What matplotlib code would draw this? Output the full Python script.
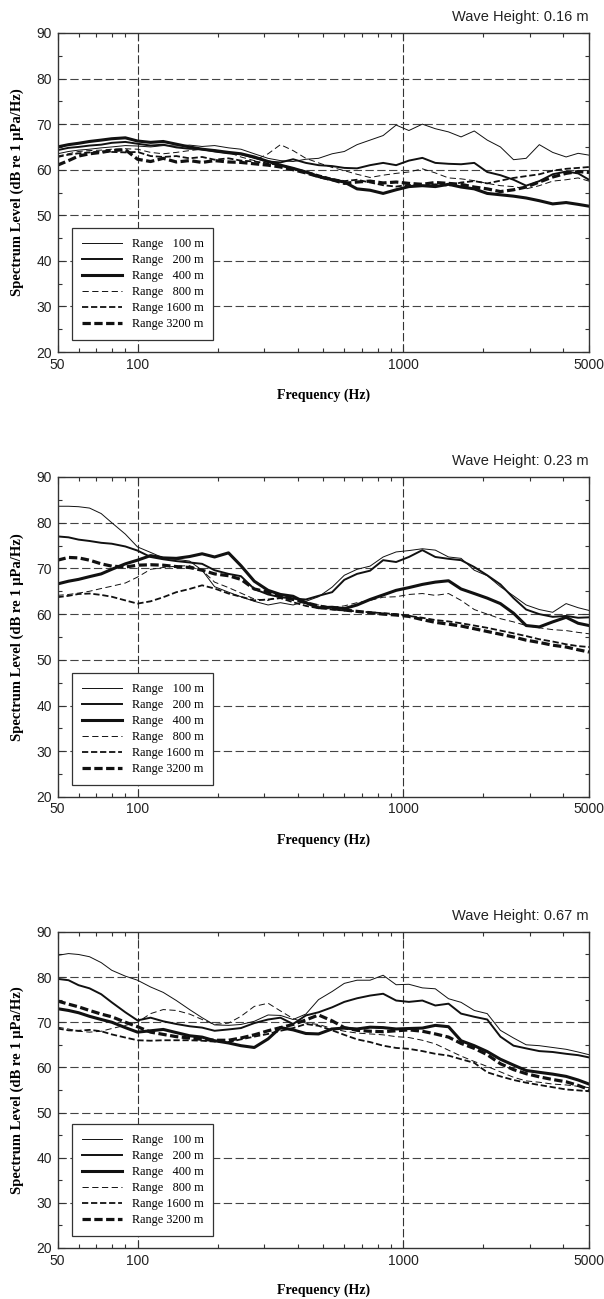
import matplotlib
matplotlib.use("Agg")
import matplotlib.pyplot as plt
from matplotlib.ticker import FixedLocator, MultipleLocator, NullFormatter

plt.rcParams['lines.scale_dashes'] = False

# frequency grid (Hz) the spectra were read at
freq = [50, 55, 60, 66, 73, 80, 90, 100, 112, 125, 140, 157, 175, 195, 220, 245, 275, 310,
        345, 385, 430, 480, 540, 600, 670, 750, 840, 940, 1050, 1180, 1320, 1480, 1650,
        1850, 2070, 2320, 2600, 2900, 3250, 3650, 4100, 4550, 5000]

ranges = ["100", "200", "400", "800", "1600", "3200"]
wave_heights = ["0.16", "0.23", "0.67"]

# wave height 0.16 m
p1_100 = [63.5, 64, 64.3, 64.5, 64.8, 65, 65.3, 65.2, 65, 65.3, 65.2, 65.4, 65.1, 65.3, 64.8, 64.5,
          63.5, 62.5, 62, 61.8, 62.3, 62.5, 63.5, 64, 65.5, 66.5, 67.5, 69.8, 68.6, 70, 69, 68.3,
          67.2, 68.5, 66.5, 65, 62.2, 62.5, 65.5, 63.8, 62.8, 63.6, 63.2]
p1_200 = [64.3, 64.8, 65, 65.3, 65.5, 65.9, 66.1, 65.7, 65.3, 65.5, 64.9, 64.6, 64.5, 64, 63.6, 63.4,
          62.6, 61.8, 61.6, 62.3, 61.5, 61, 60.8, 60.4, 60.3, 61, 61.5, 61, 62, 62.6, 61.5, 61.3,
          61.2, 61.5, 59.5, 58.8, 57.8, 56.5, 57.5, 59, 59.6, 59.2, 57.8]
p1_400 = [65, 65.5, 65.8, 66.2, 66.5, 66.8, 67, 66.3, 66, 66.2, 65.6, 65, 64.5, 64.2, 63.8, 63.5,
          62.8, 61.8, 61, 60.3, 59.5, 58.5, 57.8, 57.3, 55.8, 55.5, 54.8, 55.6, 56.3, 56.5, 56.3, 56.8,
          56.2, 55.8, 54.8, 54.5, 54.2, 53.8, 53.2, 52.5, 52.8, 52.4, 52]
p1_800 = [63, 63.5, 64, 64.2, 64.3, 64.5, 64.6, 64.5, 63.8, 63.5, 63.8, 64.2, 64.5, 64.3, 63.8, 62.8,
          62, 63.5, 65.5, 64.2, 62.5, 61.5, 60.5, 59.8, 59, 58.3, 58.8, 59.2, 59.5, 60.2, 59.3, 58.2,
          58, 57.6, 57, 56.5, 56.3, 55.8, 56.5, 57.5, 57.8, 58.2, 57.5]
p1_1600 = [62.8, 63.3, 63.6, 63.8, 64, 63.9, 63.8, 63.9, 63, 62.8, 63, 62.5, 62.8, 62.2, 62.5, 62,
           61.8, 61.4, 61, 60.3, 59.6, 58.8, 58, 57.5, 57.8, 57.2, 56.6, 56.3, 56.7, 56.4, 56.8, 56.5,
           57.2, 57.5, 57, 57.6, 58.2, 58.6, 59, 59.8, 60.2, 60.4, 60.6]
p1_3200 = [61, 62, 63, 63.5, 63.8, 64.2, 64.4, 62.3, 61.8, 62.5, 61.7, 62, 61.6, 62, 61.7, 61.6,
           61.3, 61, 60.6, 60, 59.3, 58.5, 57.8, 57, 57.3, 57.5, 57.1, 57.3, 57, 56.8, 57.2, 57,
           56.8, 56.2, 55.8, 55.2, 55.6, 56.2, 57.3, 58.4, 59.2, 59.6, 59.4]

# wave height 0.23 m
p2_100 = [83.6, 83.6, 83.5, 83.2, 82, 80, 77.5, 74.7, 73.5, 72.3, 72, 71.6, 69.6, 66, 64.8, 63.8,
          62.8, 62, 62.5, 62, 62.8, 63.8, 65.9, 68.5, 69.8, 70.5, 72.5, 73.6, 73.9, 74.3, 74, 72.5,
          72.2, 69.6, 68.4, 66, 64, 62, 61, 60.4, 62.3, 61.4, 60.8]
p2_200 = [77, 76.8, 76.3, 76, 75.6, 75.4, 74.8, 73.9, 72.5, 72, 71.6, 71.3, 71, 69.6, 68.8, 68.3,
          65.5, 64.3, 63.7, 63.4, 63.2, 64, 64.8, 67.5, 68.8, 69.5, 71.8, 71.4, 72.5, 74, 72.5, 72.1,
          71.8, 70.3, 68.5, 66.5, 63.5, 61, 60, 59.4, 59.6, 59.2, 59.3]
p2_400 = [66.6, 67.2, 67.6, 68.2, 68.8, 69.8, 71, 71.8, 72.8, 72.3, 72.2, 72.6, 73.2, 72.5, 73.4, 70.6,
          67.2, 65.2, 64.3, 63.9, 62.5, 61.4, 61.5, 61.2, 62, 63.2, 64.2, 65.2, 65.8, 66.5, 67, 67.3,
          65.5, 64.5, 63.5, 62.3, 60.2, 57.5, 57.2, 58.3, 59.3, 58, 57.5]
p2_800 = [64.1, 64.3, 64.6, 65, 65.6, 66.1, 66.8, 68.1, 69.8, 70.2, 70.5, 70.6, 69.6, 67, 65.8, 64.6,
          63.3, 63, 64.2, 63.5, 62.3, 62, 61.5, 61.8, 62.5, 63, 63.7, 63.8, 64.3, 64.5, 64.1, 64.5,
          63, 61, 60, 59, 58.3, 57.5, 57, 56.6, 56.4, 56, 55.7]
p2_1600 = [63.7, 64, 64.4, 64.5, 64.2, 63.8, 63, 62.3, 62.8, 63.7, 64.8, 65.5, 66.3, 65.6, 64.5, 63.8,
           63, 63.2, 63.5, 62.6, 61.8, 61.3, 61, 60.8, 60.6, 60.4, 60.2, 60, 59.6, 59.2, 58.7, 58.4,
           58, 57.5, 57, 56.4, 55.8, 55.2, 54.5, 54, 53.4, 53, 52.8]
p2_3200 = [71.8, 72.4, 72.3, 71.8, 71, 70.5, 70.3, 70.7, 70.8, 70.7, 70.4, 70.2, 69.6, 68.8, 68.4, 67.6,
           65.5, 64.8, 63.8, 63.2, 62.5, 61.8, 61.2, 60.9, 60.6, 60.3, 60, 59.8, 59.5, 58.8, 58.2, 57.8,
           57.4, 56.8, 56.2, 55.6, 55, 54.3, 53.8, 53.2, 52.8, 52.2, 51.7]

# wave height 0.67 m
p3_100 = [84.8, 85.2, 85, 84.5, 83.2, 81.5, 80.2, 79.3, 77.8, 76.6, 74.8, 72.8, 71, 69.4, 69.3, 69.5,
          70.2, 71.6, 71.5, 70.6, 71.8, 75, 76.8, 78.6, 79.3, 79.3, 80.4, 78.3, 78.4, 77.6, 77.4, 75.2,
          74.4, 72.6, 71.9, 68.2, 66.5, 65, 64.8, 64.4, 64, 63.4, 62.8]
p3_200 = [79.6, 79.3, 78.2, 77.5, 76.2, 74.4, 72.2, 70.4, 71, 70.2, 69.6, 69.1, 68.8, 68.1, 68.4, 68.7,
          69.8, 70.6, 71, 69.6, 71.5, 72.2, 73.3, 74.5, 75.3, 75.9, 76.3, 74.8, 74.5, 74.8, 73.7, 74.1,
          71.9, 71.2, 70.6, 66.8, 64.8, 64.2, 63.6, 63.4, 63, 62.7, 62.2]
p3_400 = [73, 72.6, 72.1, 71.3, 70.6, 70, 68.8, 67.8, 68.1, 68.4, 67.7, 67, 66.7, 65.9, 65.4, 64.8,
          64.4, 66.3, 68.8, 68.3, 67.5, 67.4, 68.5, 68.7, 68.5, 68.9, 68.8, 68.5, 68.6, 68.7, 69.3, 69,
          65.9, 64.8, 63.5, 61.8, 60.5, 59.3, 58.9, 58.5, 58, 57.2, 56.3]
p3_800 = [68.9, 68.5, 68, 67.8, 68, 68.6, 69.3, 70, 71.9, 72.8, 72.6, 71.8, 70.6, 69.5, 69.8, 71.3,
          73.5, 74.2, 72.5, 70.8, 69.8, 69.5, 68.6, 68, 67.6, 67.4, 67.2, 66.8, 66.6, 66, 65.2, 63.8,
          62.5, 61.3, 60.2, 59, 57.8, 57, 56.7, 56.3, 56.1, 55.8, 55.5]
p3_1600 = [68.6, 68.2, 68.1, 68.3, 68, 67.3, 66.6, 66, 65.9, 66, 66, 66, 65.9, 65.7, 65.6, 66.2,
           66.8, 67.4, 68.1, 68.7, 69.6, 69.2, 68.2, 67.2, 66.2, 65.6, 64.8, 64.3, 64.1, 63.6, 63, 62.6,
           61.8, 61, 58.9, 58, 57.2, 56.6, 56.1, 55.6, 55.1, 54.9, 54.7]
p3_3200 = [74.7, 74, 73.4, 72.6, 71.8, 71.2, 70, 69, 67.8, 67.3, 66.8, 66.5, 66.2, 66, 66, 66.5,
           67.2, 68.1, 68.8, 69.5, 70.5, 71.6, 70.3, 68.8, 68.2, 68, 67.9, 68.1, 68.3, 68, 67.4, 66.7,
           65.3, 64.2, 62.8, 60.8, 59.5, 58.6, 57.9, 57.3, 56.8, 56, 55.1]

panels = [
    [p1_100, p1_200, p1_400, p1_800, p1_1600, p1_3200],
    [p2_100, p2_200, p2_400, p2_800, p2_1600, p2_3200],
    [p3_100, p3_200, p3_400, p3_800, p3_1600, p3_3200],
]

# line width and dash pattern per range
styles = [
    (0.7, "-"),
    (1.4, "-"),
    (2.2, "-"),
    (0.7, (0, (4.5, 2.5))),
    (1.3, (0, (4.5, 2))),
    (2.3, (0, (6, 2.5))),
]

serif = ["Liberation Serif", "DejaVu Serif"]
sans = ["Liberation Sans", "DejaVu Sans"]

fig = plt.figure(figsize=(6.04, 12.99), dpi=100)
# axes boxes in figure fractions (left, bottom, width, height)
boxes = [
    (0.0952, 0.7290, 0.8800, 0.2456),
    (0.0952, 0.3865, 0.8800, 0.2463),
    (0.0952, 0.0393, 0.8800, 0.2433),
]

for box, curves, wh in zip(boxes, panels, wave_heights):
    ax = fig.add_axes(box)
    for vals, rng, (lw, ls) in zip(curves, ranges, styles):
        label = "Range " + rng.rjust(4).replace(" ", "  ") + " m"
        ax.plot(freq, vals, color="#111111", lw=lw, linestyle=ls, label=label)

    ax.set_xscale("log")
    ax.set_xlim(50, 5000)
    ax.set_ylim(20, 90)
    ax.xaxis.set_major_locator(FixedLocator([50, 100, 1000, 5000]))
    ax.xaxis.set_minor_locator(FixedLocator([60, 70, 80, 90, 200, 300, 400, 500, 600, 700, 800, 900,
                                             2000, 3000, 4000]))
    ax.xaxis.set_minor_formatter(NullFormatter())
    ax.set_xticklabels(["50", "100", "1000", "5000"])
    ax.yaxis.set_major_locator(MultipleLocator(10))
    ax.yaxis.set_minor_locator(MultipleLocator(5))

    for x in [100, 1000]:
        ax.axvline(x, color="#333333", lw=0.8, linestyle=(0, (6, 2)), zorder=0)
    for y in [30, 40, 50, 60, 70, 80]:
        ax.axhline(y, color="#444444", lw=0.8, linestyle=(0, (6, 2.5)), zorder=0)

    ax.tick_params(which="both", direction="in", top=True, right=True, colors="#333333",
                   labelcolor="#222222", labelsize=10, pad=4)
    ax.tick_params(which="major", length=5, width=0.8)
    ax.tick_params(which="minor", length=3, width=0.8)
    for lab in ax.get_xticklabels() + ax.get_yticklabels():
        lab.set_family(sans)
    for sp in ax.spines.values():
        sp.set_color("#333333")
        sp.set_linewidth(1.0)

    ax.set_xlabel("Frequency (Hz)", family=serif, fontweight="bold", fontsize=10, va="center")
    ax.set_ylabel("Spectrum Level (dB re 1 μPa/Hz)", family=serif, fontweight="bold", fontsize=10.5,
                  va="center")
    ax.xaxis.set_label_coords(0.5, -0.135)
    ax.yaxis.set_label_coords(-0.075, 0.5)

    ax.text(1.0, 1.05, "Wave Height: " + wh + " m", transform=ax.transAxes, ha="right",
            va="center", family=sans, fontsize=10.5, color="#222222")

    leg = ax.legend(loc="lower left", bbox_to_anchor=(0.027, 0.038), borderaxespad=0,
                    prop={"family": serif, "size": 8.8}, handlelength=3.3, handletextpad=0.8,
                    labelspacing=0.33, borderpad=0.8, fancybox=False, framealpha=1)
    leg.get_frame().set_edgecolor("#333333")
    leg.get_frame().set_linewidth(0.9)

fig.savefig("out.png", dpi=100)
